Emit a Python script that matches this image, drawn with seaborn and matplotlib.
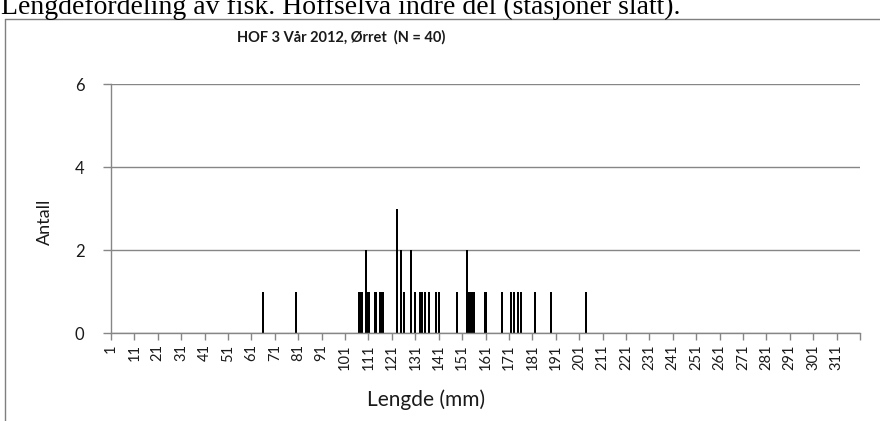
import matplotlib
matplotlib.use("Agg")
import matplotlib.pyplot as plt
from matplotlib.lines import Line2D
import seaborn as sns
import pandas as pd

# ---- data ----
lengths = [66, 80, 107, 108, 110, 111, 114, 116, 117, 123, 125, 126, 129, 131,
           133, 134, 135, 137, 140, 141, 149, 153, 154, 155, 156, 161, 168,
           172, 173, 175, 176, 182, 189, 204]
counts = [1, 1, 1, 1, 2, 1, 1, 1, 1, 3, 2, 1, 2, 1,
          1, 1, 1, 1, 1, 1, 1, 2, 1, 1, 1, 1, 1,
          1, 1, 1, 1, 1, 1, 1]
x_tick_positions = [1, 11, 21, 31, 41, 51, 61, 71, 81, 91, 101, 111, 121, 131,
                    141, 151, 161, 171, 181, 191, 201, 211, 221, 231, 241, 251,
                    261, 271, 281, 291, 301, 311, 321]
x_tick_labels = ["1", "11", "21", "31", "41", "51", "61", "71", "81", "91",
                 "101", "111", "121", "131", "141", "151", "161", "171", "181",
                 "191", "201", "211", "221", "231", "241", "251", "261", "271",
                 "281", "291", "301", "311", ""]
y_ticks = [0, 2, 4, 6]
title = "HOF 3 Vår 2012, Ørret  (N = 40)"
doc_text = "Lengdefordeling av fisk. Hoffselva indre del (stasjoner slått)."

sns.set_style("white")
plt.rcParams["font.family"] = ["Lato", "DejaVu Sans"]

GREY = "#868686"
TXT = "#1a1a1a"
W, H = 880, 421
fig = plt.figure(figsize=(W / 100, H / 100), dpi=100)
x0, x1, ytop, ybot = 111, 860, 84.3, 333.3
ax = fig.add_axes([x0 / W, 1 - ybot / H, (x1 - x0) / W, (ybot - ytop) / H])

df = pd.DataFrame({"Lengde": lengths, "Antall": counts})
sns.barplot(data=df, x="Lengde", y="Antall", native_scale=True, orient="x",
            width=0.9, color="black", saturation=1, errorbar=None,
            linewidth=0, ax=ax)

ax.set_xlim(1, 321)
ax.set_ylim(0, 6)
ax.set_yticks(y_ticks)
ax.set_yticklabels([str(v) for v in y_ticks])
ax.set_xticks(x_tick_positions)
ax.set_xticklabels(x_tick_labels, rotation=90)

ax.yaxis.grid(True, color=GREY, lw=1)
ax.xaxis.grid(False)
ax.set_axisbelow(True)
for s in ["top", "right"]:
    ax.spines[s].set_visible(False)
for s in ["left", "bottom"]:
    ax.spines[s].set_color(GREY)
    ax.spines[s].set_linewidth(1)

ax.tick_params(axis="x", direction="out", length=5, width=1, color=GREY,
               labelsize=10.5, pad=3, labelcolor=TXT)
ax.tick_params(axis="y", direction="out", length=6, width=1, color=GREY,
               labelsize=12, pad=13, labelcolor=TXT)
ax.tick_params(axis="y", which="both", left=True)
ax.tick_params(axis="x", which="both", bottom=True)

ax.set_ylabel("Antall", fontsize=13, color=TXT, va="center")
ax.yaxis.set_label_coords((45 - x0) / (x1 - x0), (ybot - 222) / (ybot - ytop))
ax.set_xlabel("Lengde (mm)", fontsize=15, color=TXT, va="center")
ax.xaxis.set_label_coords((426 - x0) / (x1 - x0), (ybot - 400) / (ybot - ytop))

fig.text(341 / W, 1 - 37 / H, title, fontsize=10.5, fontweight="bold",
         ha="center", va="center", color=TXT)

# frame of the embedded chart and clipped document text above it
fig.add_artist(Line2D([5 / W, 5 / W], [0, 1 - 19 / H], transform=fig.transFigure,
                      color="#7f7f7f", lw=1))
fig.add_artist(Line2D([5 / W, 1], [1 - 19 / H, 1 - 19 / H], transform=fig.transFigure,
                      color="#7f7f7f", lw=1))
fig.text(1 / W, 1 - 14 / H, doc_text, fontsize=20, ha="left", va="baseline",
         family=["Liberation Serif", "DejaVu Serif"], color="black")

fig.savefig("out.png", dpi=100)
